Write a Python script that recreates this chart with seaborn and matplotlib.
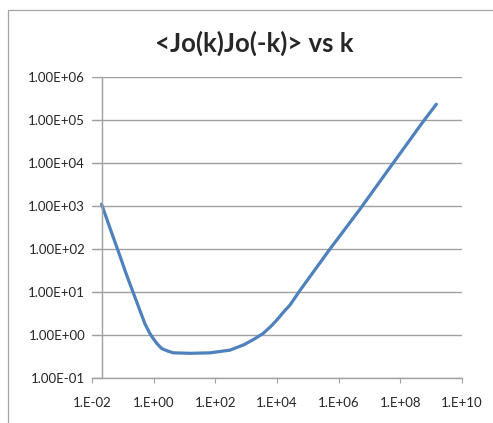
import math
import matplotlib
matplotlib.use("Agg")
import matplotlib.pyplot as plt
import matplotlib.ticker as mticker
from matplotlib.patches import Rectangle
import seaborn as sns
import pandas as pd

# values
k_vals = [0.020, 0.037, 0.069, 0.13, 0.25, 0.51, 0.74, 0.95, 1.26, 1.8, 2.8,
          4.3, 15, 66, 295, 794, 1700, 3550, 6300, 9800, 16000, 26300, 56000,
          525000, 5.0e6, 6.0e7, 5.6e8, 1.5e9]
corr_vals = [1100, 316, 91, 25, 7.2, 1.86, 1.1, 0.84, 0.64, 0.49, 0.43,
             0.39, 0.38, 0.39, 0.45, 0.59, 0.79, 1.10, 1.6, 2.24, 3.4, 5.0, 11,
             100, 850, 1.0e4, 9.1e4, 2.3e5]
x_ticks = [1e-2, 1e0, 1e2, 1e4, 1e6, 1e8, 1e10]
y_ticks = [1e-1, 1e0, 1e1, 1e2, 1e3, 1e4, 1e5, 1e6]
title = "<Jo(k)Jo(-k)> vs k"

df = pd.DataFrame({"k": k_vals, "corr": corr_vals})

sns.set_style("white")
plt.rcParams['font.family'] = ['Lato', 'DejaVu Sans']

fig = plt.figure(figsize=(4.93, 4.23), dpi=100)
# chart frame, right and bottom edges fall outside the image
fig.patches.append(Rectangle((8 / 493, -0.05), 1.2, 1.05 - 10 / 423,
                             transform=fig.transFigure, fill=False,
                             edgecolor="#a6a6a6", linewidth=0.9))
ax = fig.add_axes([92.3 / 493, (423 - 378.3) / 423, 369.4 / 493, 301.6 / 423])

sns.lineplot(data=df, x="k", y="corr", ax=ax, color="#4f81bd", linewidth=2.3,
             estimator=None, sort=False, solid_capstyle="round",
             solid_joinstyle="round")

ax.set_xscale("log")
ax.set_yscale("log")
ax.set_xlim(1e-2, 1e10)
ax.set_ylim(1e-1, 1e6)
ax.set_xticks(x_ticks)
ax.set_yticks(y_ticks)
ax.xaxis.set_minor_locator(mticker.NullLocator())
ax.yaxis.set_minor_locator(mticker.NullLocator())
ax.set_xticklabels([f"1.E{round(math.log10(v)):+03d}" for v in x_ticks])
ax.set_yticklabels([f"1.00E{round(math.log10(v)):+03d}" for v in y_ticks])
ax.set_xlabel("")
ax.set_ylabel("")

ax.grid(axis="y", color="#a0a0a0", linewidth=1.0)
ax.grid(axis="x", visible=False)
ax.set_axisbelow(True)

for s in ["top", "right"]:
    ax.spines[s].set_visible(False)
ax.spines["left"].set_position(("data", 0.02))
ax.spines["left"].set_color("#a0a0a0")
ax.spines["bottom"].set_color("#a0a0a0")
ax.spines["left"].set_linewidth(1.0)
ax.spines["bottom"].set_linewidth(1.0)

ax.tick_params(axis="y", direction="out", length=6.8, width=0.8, color="#a0a0a0",
               pad=5, labelsize=9.5, left=True)
ax.tick_params(axis="x", direction="out", length=3.6, width=0.8, color="#a0a0a0",
               pad=10, labelsize=9.5, bottom=True)

fig.text(254 / 493, 1 - 43 / 423, title, ha="center", va="center",
         fontsize=18.5, fontweight="bold")

fig.savefig("out.png", dpi=100)
